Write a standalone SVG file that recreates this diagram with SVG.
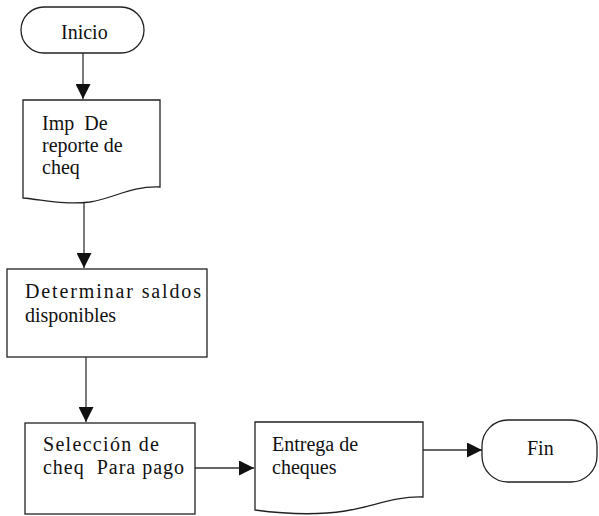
<svg xmlns="http://www.w3.org/2000/svg" width="599" height="516" viewBox="0 0 599 516">
  <style>
    .shape { fill: #ffffff; stroke: #222; stroke-width: 1.3; }
    .edge { fill: none; stroke: #333; stroke-width: 1.3; }
    .label { font-size: 20px; fill: #111; }
  </style>
  <defs>
    <marker id="arrowHead" viewBox="0 0 10 10" refX="10" refY="5" markerWidth="15" markerHeight="15" markerUnits="userSpaceOnUse" orient="auto">
      <path d="M0,0 L10,5 L0,10 Z" fill="#111"/>
    </marker>
  </defs>

  <g id="connectors">
    <line class="edge" x1="83" y1="53" x2="83" y2="99" marker-end="url(#arrowHead)"/>
    <line class="edge" x1="84" y1="202" x2="84" y2="268" marker-end="url(#arrowHead)"/>
    <line class="edge" x1="86" y1="357" x2="86" y2="422" marker-end="url(#arrowHead)"/>
    <line class="edge" x1="195" y1="468" x2="254" y2="468" marker-end="url(#arrowHead)"/>
    <line class="edge" x1="423" y1="450" x2="482" y2="450" marker-end="url(#arrowHead)"/>
  </g>

  <g id="inicio">
    <rect class="shape" x="21" y="7" width="123" height="46" rx="23" ry="23"/>
    <text class="label" font-family="Liberation Serif, serif" x="61" y="39">Inicio</text>
  </g>

  <g id="imp-reporte">
    <path class="shape" d="M23,100 H160 V187 C130,186 115,198 90,202 C65,205 45,200 23,198 Z"/>
    <text class="label" font-family="Liberation Serif, serif" x="42" y="130" xml:space="preserve">Imp  De</text>
    <text class="label" font-family="Liberation Serif, serif" x="42" y="152">reporte de</text>
    <text class="label" font-family="Liberation Serif, serif" x="42" y="174">cheq</text>
  </g>

  <g id="determinar-saldos">
    <rect class="shape" x="7" y="269" width="200" height="88"/>
    <text class="label" font-family="Liberation Serif, serif" x="25" y="298" textLength="176" lengthAdjust="spacing">Determinar saldos</text>
    <text class="label" font-family="Liberation Serif, serif" x="25" y="322">disponibles</text>
  </g>

  <g id="seleccion-cheq">
    <rect class="shape" x="25" y="423" width="170" height="91"/>
    <text class="label" font-family="Liberation Serif, serif" x="43" y="451" textLength="116" lengthAdjust="spacing">Selección de</text>
    <text class="label" font-family="Liberation Serif, serif" x="43" y="474" xml:space="preserve" textLength="141" lengthAdjust="spacing">cheq  Para pago</text>
  </g>

  <g id="entrega-cheques">
    <path class="shape" d="M255,422 H423 V497 C395,496 375,506 345,511 C320,515 285,514 255,510 Z"/>
    <text class="label" font-family="Liberation Serif, serif" x="272" y="451">Entrega de</text>
    <text class="label" font-family="Liberation Serif, serif" x="272" y="474">cheques</text>
  </g>

  <g id="fin">
    <rect class="shape" x="482" y="420" width="115" height="62" rx="26" ry="26"/>
    <text class="label" font-family="Liberation Serif, serif" x="527" y="455">Fin</text>
  </g>
</svg>
